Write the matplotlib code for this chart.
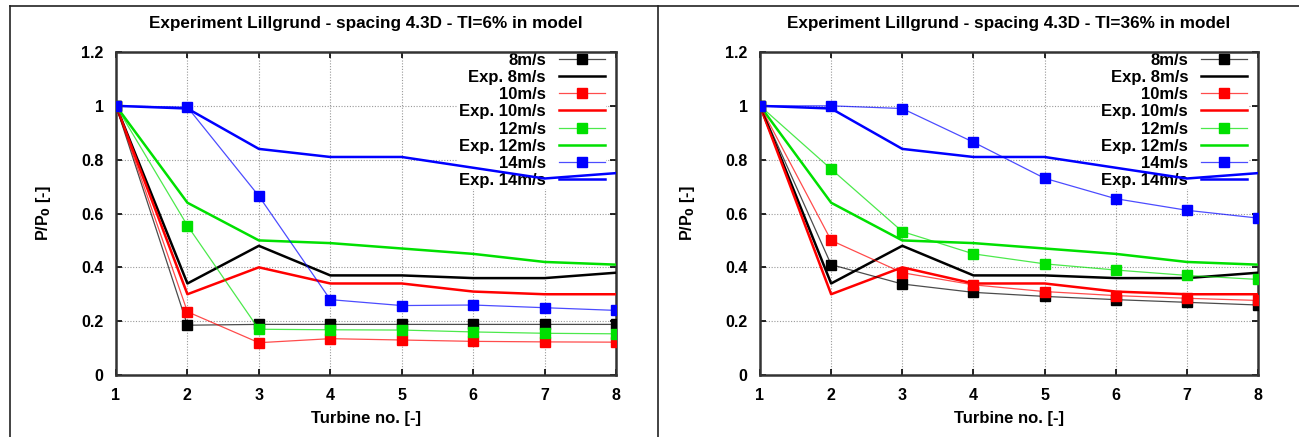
"""
Lillgrund row power deficit: model vs experiment at two TI settings.
"""
import numpy as np
import matplotlib
matplotlib.use("Agg")
import matplotlib.pyplot as plt
from matplotlib.colors import to_rgba
from matplotlib.lines import Line2D

plt.rcParams["font.family"] = ["Liberation Sans", "DejaVu Sans"]
plt.rcParams["font.weight"] = "bold"

# ── Data ──────────────────────────────────────────────────────────────────────
turbine = [1, 2, 3, 4, 5, 6, 7, 8]
speeds = ["8m/s", "10m/s", "12m/s", "14m/s"]
COLORS = {"8m/s": "#000000", "10m/s": "#ff0000", "12m/s": "#00e000", "14m/s": "#0000ff"}

# experiment (same in both panels)
exp_8 = [1.0, 0.34, 0.48, 0.37, 0.37, 0.36, 0.36, 0.38]
exp_10 = [1.0, 0.30, 0.40, 0.34, 0.34, 0.31, 0.30, 0.30]
exp_12 = [1.0, 0.64, 0.50, 0.49, 0.47, 0.45, 0.42, 0.41]
exp_14 = [1.0, 0.99, 0.84, 0.81, 0.81, 0.77, 0.73, 0.75]

# model, TI=6%
ti6_8 = [1.0, 0.185, 0.188, 0.188, 0.188, 0.188, 0.188, 0.188]
ti6_10 = [1.0, 0.235, 0.12, 0.135, 0.13, 0.125, 0.123, 0.122]
ti6_12 = [1.0, 0.555, 0.17, 0.168, 0.167, 0.16, 0.155, 0.153]
ti6_14 = [1.0, 0.995, 0.665, 0.28, 0.258, 0.26, 0.25, 0.24]

# model, TI=36%
ti36_8 = [1.0, 0.41, 0.338, 0.307, 0.292, 0.28, 0.27, 0.26]
ti36_10 = [1.0, 0.50, 0.38, 0.335, 0.31, 0.295, 0.285, 0.277]
ti36_12 = [1.0, 0.765, 0.533, 0.45, 0.413, 0.39, 0.37, 0.355]
ti36_14 = [1.0, 1.0, 0.99, 0.865, 0.731, 0.655, 0.612, 0.583]

exp_series = [exp_8, exp_10, exp_12, exp_14]
panels = [
    ("Experiment Lillgrund - spacing 4.3D - TI=6% in model", [ti6_8, ti6_10, ti6_12, ti6_14]),
    ("Experiment Lillgrund - spacing 4.3D - TI=36% in model", [ti36_8, ti36_10, ti36_12, ti36_14]),
]


# ── Plot ──────────────────────────────────────────────────────────────────────
def draw_panel(ax, title, model_series):
    ax.set_axisbelow(True)
    ax.grid(color="#999999", linestyle=(0, (1, 1.5)), linewidth=0.8)
    handles, labels = [], []
    for spd, model, exp in zip(speeds, model_series, exp_series):
        c = COLORS[spd]
        model_kw = dict(color=to_rgba(c, 0.7), lw=0.9, marker="s", ms=7.5, mfc=c, mec=c)
        ax.plot(turbine, model, zorder=4, **model_kw)
        ax.plot(turbine, exp, color=c, lw=1.8, zorder=3)
        handles.append(Line2D([], [], **model_kw))
        handles.append(Line2D([], [], color=c, lw=1.8))
        labels += [spd, f"Exp. {spd}"]

    # gnuplot-style key: opaque, no border, below the data curves
    leg = ax.legend(handles, labels, loc="upper right", bbox_to_anchor=(0.98, 1.0),
                    markerfirst=False, frameon=True, facecolor="white", edgecolor="none",
                    framealpha=1, fontsize=12, handlelength=2.8, handletextpad=0.75,
                    labelspacing=0.13, borderpad=0.05, borderaxespad=0.0)
    leg.set_zorder(1)
    for t in leg.get_texts():
        t.set_fontweight("bold")

    ax.set_xlim(1, 8)
    ax.set_ylim(0, 1.2)
    ax.set_xticks(turbine)
    ax.set_yticks([0, 0.2, 0.4, 0.6, 0.8, 1.0, 1.2])
    ax.set_yticklabels(["0", "0.2", "0.4", "0.6", "0.8", "1", "1.2"])
    ax.tick_params(labelsize=11.5, direction="in", length=4, width=1.2, pad=9,
                   top=True, right=True)
    for lab in ax.get_xticklabels() + ax.get_yticklabels():
        lab.set_fontweight("bold")
    for sp in ax.spines.values():
        sp.set_linewidth(1.8)
        sp.set_color("#333333")
    ax.set_title(title, fontsize=12.3, fontweight="bold", pad=17)
    ax.set_xlabel("Turbine no. [-]", fontsize=12, fontweight="bold", labelpad=6)
    ax.set_ylabel(r"P/P$_\mathbf{0}$ [-]", fontsize=11.5, fontweight="bold", labelpad=20)


def main():
    fig = plt.figure(figsize=(12.99, 4.37), dpi=100)
    W, H = 1299, 437
    boxes = [(116, 616), (760, 1258)]
    top_px, bot_px = 52, 375
    for (x0, x1), (title, model_series) in zip(boxes, panels):
        ax = fig.add_axes([x0 / W, 1 - bot_px / H, (x1 - x0) / W, (bot_px - top_px) / H])
        draw_panel(ax, title, model_series)

    # outer frame: left edge, top edge, divider
    frame_kw = dict(color="#222222", lw=1.2, transform=fig.transFigure)
    fig.add_artist(Line2D([10 / W, 10 / W], [0, 1 - 6 / H], **frame_kw))
    fig.add_artist(Line2D([10 / W, 1], [1 - 6 / H, 1 - 6 / H], **frame_kw))
    fig.add_artist(Line2D([658 / W, 658 / W], [0, 1 - 6 / H], **frame_kw))

    fig.savefig("out.png", dpi=100)
    plt.close(fig)


if __name__ == "__main__":
    main()
